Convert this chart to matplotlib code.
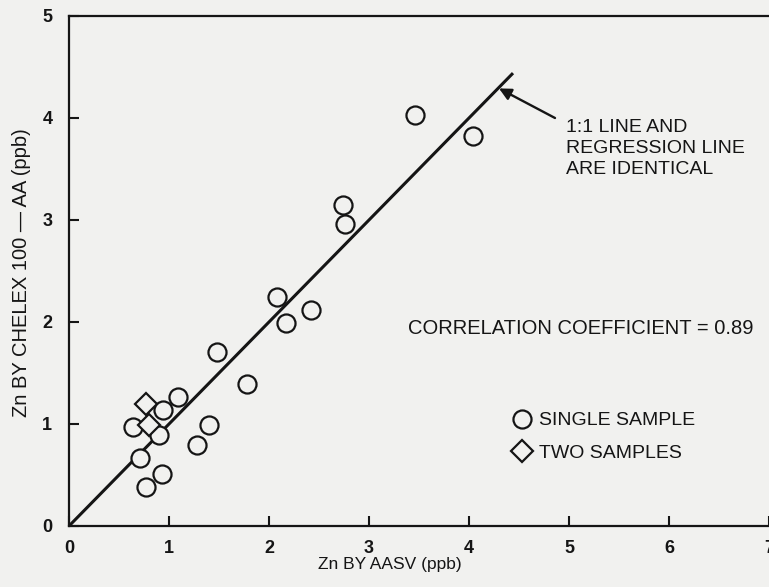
import matplotlib.pyplot as plt

# valeurs (ppb)
simple_x = [3.46, 4.04, 2.74, 2.76, 2.08, 2.17, 2.42, 1.48, 1.78,
            1.09, 0.94, 0.64, 0.90, 1.40, 1.28, 0.71, 0.93, 0.77]
simple_y = [4.03, 3.82, 3.15, 2.96, 2.25, 1.99, 2.12, 1.71, 1.39,
            1.26, 1.14, 0.97, 0.89, 0.99, 0.79, 0.67, 0.51, 0.38]
doble_x = [0.77, 0.80]
doble_y = [1.20, 0.99]

linea_x = [0, 4.44]
linea_y = [0, 4.44]

ticks_x = [0, 1, 2, 3, 4, 5, 6, 7]
ticks_y = [0, 1, 2, 3, 4, 5]

fondo = '#f1f1ef'
tinta = '#151515'

plt.rcParams['font.family'] = ['Liberation Sans', 'DejaVu Sans']

fig = plt.figure(figsize=(7.69, 5.87), dpi=100, facecolor=fondo)
ax = fig.add_axes([69 / 769, 61 / 587, 700 / 769, 510 / 587])
ax.set_facecolor(fondo)

ax.plot(linea_x, linea_y, color=tinta, lw=2.2, zorder=2, solid_capstyle='butt')
ax.plot(simple_x, simple_y, 'o', ms=13, mfc=fondo, mec=tinta, mew=1.6,
        ls='none', zorder=3, label='SINGLE SAMPLE')
ax.plot(doble_x, doble_y, 'D', ms=11, mfc=fondo, mec=tinta, mew=1.6,
        ls='none', zorder=3, label='TWO SAMPLES')

ax.set_xlim(0, 7)
ax.set_ylim(0, 5)
ax.set_xticks(ticks_x)
ax.set_yticks(ticks_y)
ax.tick_params(direction='in', length=7, width=1.5, colors=tinta,
               labelsize=13)
ax.tick_params(axis='x', pad=10)
ax.tick_params(axis='y', pad=12)
for lab in ax.get_xticklabels() + ax.get_yticklabels():
    lab.set_fontweight('bold')

for lado in ['left', 'bottom', 'top']:
    ax.spines[lado].set_linewidth(1.6)
    ax.spines[lado].set_color(tinta)
ax.spines['right'].set_visible(False)

fig.text(390 / 769, 1 - 564 / 587, 'Zn BY AASV (ppb)', ha='center', va='center',
         fontsize=12.5, color=tinta)
fig.text(22 / 769, 1 - 273 / 587, 'Zn BY CHELEX 100 \u2014 AA (ppb)', rotation=90,
         ha='center', va='center', fontsize=14.5, color=tinta)

ax.annotate('', xy=(4.30, 4.29), xytext=(4.86, 4.00),
            arrowprops=dict(arrowstyle='-|>', lw=1.7, color=tinta,
                            mutation_scale=18, shrinkA=0, shrinkB=0))
ax.text(4.97, 3.70, '1:1 LINE AND\nREGRESSION LINE\nARE IDENTICAL',
        ha='left', va='center', fontsize=14, color=tinta, linespacing=1.3)
ax.text(3.39, 1.94, 'CORRELATION COEFFICIENT = 0.89', ha='left', va='center',
        fontsize=14.5, color=tinta)

ax.legend(loc='upper left', bbox_to_anchor=(0.634, 0.224), frameon=False,
          fontsize=14, handlelength=0.95, handletextpad=0.4, borderpad=0,
          borderaxespad=0, labelspacing=0.75, labelcolor=tinta)

fig.savefig('out.png', dpi=100, facecolor=fondo)
